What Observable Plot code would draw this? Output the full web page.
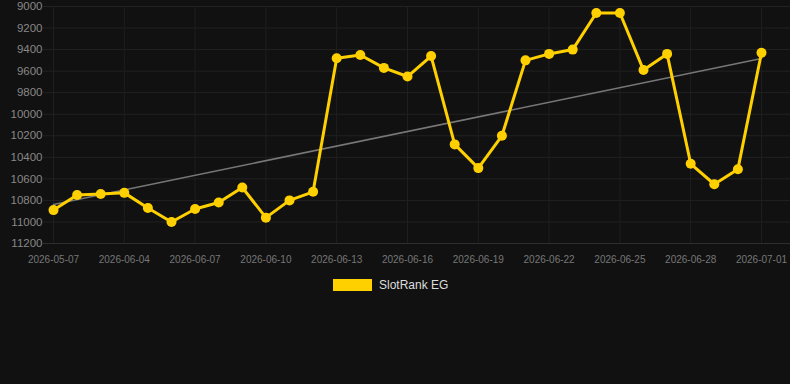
<!DOCTYPE html>
<html><head><meta charset="utf-8">
<script src="https://cdn.jsdelivr.net/npm/d3@7"></script>
<script src="https://cdn.jsdelivr.net/npm/@observablehq/plot@0.6"></script>
<style>
html,body{margin:0;padding:0;background:#111111;}
body{font-family:Arial,"Liberation Sans",sans-serif;width:790px;height:384px;position:relative;overflow:hidden;}
#legend{position:absolute;left:333px;top:278px;display:flex;align-items:center;font-size:12px;color:#dddddd;}
#legend .sw{width:39px;height:12px;background:#ffd000;margin-right:7px;}
</style>
</head><body>
<div id="chart"></div>
<div id="legend"><div class="sw"></div><span>SlotRank EG</span></div>
<script>
const dates = ["2026-05-07","2026-06-02","2026-06-03","2026-06-04","2026-06-05","2026-06-06","2026-06-07","2026-06-08","2026-06-09","2026-06-10","2026-06-11","2026-06-12","2026-06-13","2026-06-14","2026-06-15","2026-06-16","2026-06-17","2026-06-18","2026-06-19","2026-06-20","2026-06-21","2026-06-22","2026-06-23","2026-06-24","2026-06-25","2026-06-26","2026-06-27","2026-06-28","2026-06-29","2026-06-30","2026-07-01"];
const ranks = [10890,10750,10740,10730,10870,11000,10880,10820,10680,10960,10800,10720,9480,9450,9570,9650,9460,10280,10500,10200,9500,9440,9400,9060,9060,9590,9440,10460,10650,10510,9430];
const yTicks = [9000,9200,9400,9600,9800,10000,10200,10400,10600,10800,11000,11200];
const seriesName = "SlotRank EG";

const data = dates.map((d, i) => ({i, date: d, rank: ranks[i]}));
const xTickIdx = dates.map((d, i) => i).filter(i => i % 3 === 0);

const chart = Plot.plot({
  width: 790,
  height: 270,
  marginLeft: 43,
  marginRight: 0,
  marginTop: 6,
  marginBottom: 27,
  style: {background: "#111111", color: "#888888", fontFamily: "Arial, 'Liberation Sans', sans-serif"},
  x: {domain: [-0.424, 31.229], axis: null, label: null},
  y: {domain: [9000, 11200], reverse: true, axis: null, label: null},
  marks: [
    Plot.ruleY(yTicks, {stroke: "#222222", strokeWidth: 1}),
    Plot.ruleX(xTickIdx, {stroke: "#1f1f1f", strokeWidth: 1}),
    Plot.ruleY([11200], {stroke: "#2e2e2e", strokeWidth: 1}),
    Plot.axisY({ticks: yTicks, label: null, tickSize: 0, tickPadding: 1, tickFormat: d => String(d), fontSize: 11.5, fill: "#888888"}),
    Plot.axisX({ticks: xTickIdx, label: null, tickSize: 0, tickPadding: 12, tickFormat: i => dates[i], fontSize: 10, fill: "#777777"}),
    Plot.linearRegressionY(data, {x: "i", y: "rank", ci: 0, stroke: "#777777", strokeWidth: 1.6}),
    Plot.line(data, {x: "i", y: "rank", stroke: "#ffd000", strokeWidth: 3, curve: "linear"}),
    Plot.dot(data, {x: "i", y: "rank", r: 5, fill: "#ffd000", stroke: "none"})
  ]
});
document.getElementById("chart").appendChild(chart);
</script>
</body></html>
